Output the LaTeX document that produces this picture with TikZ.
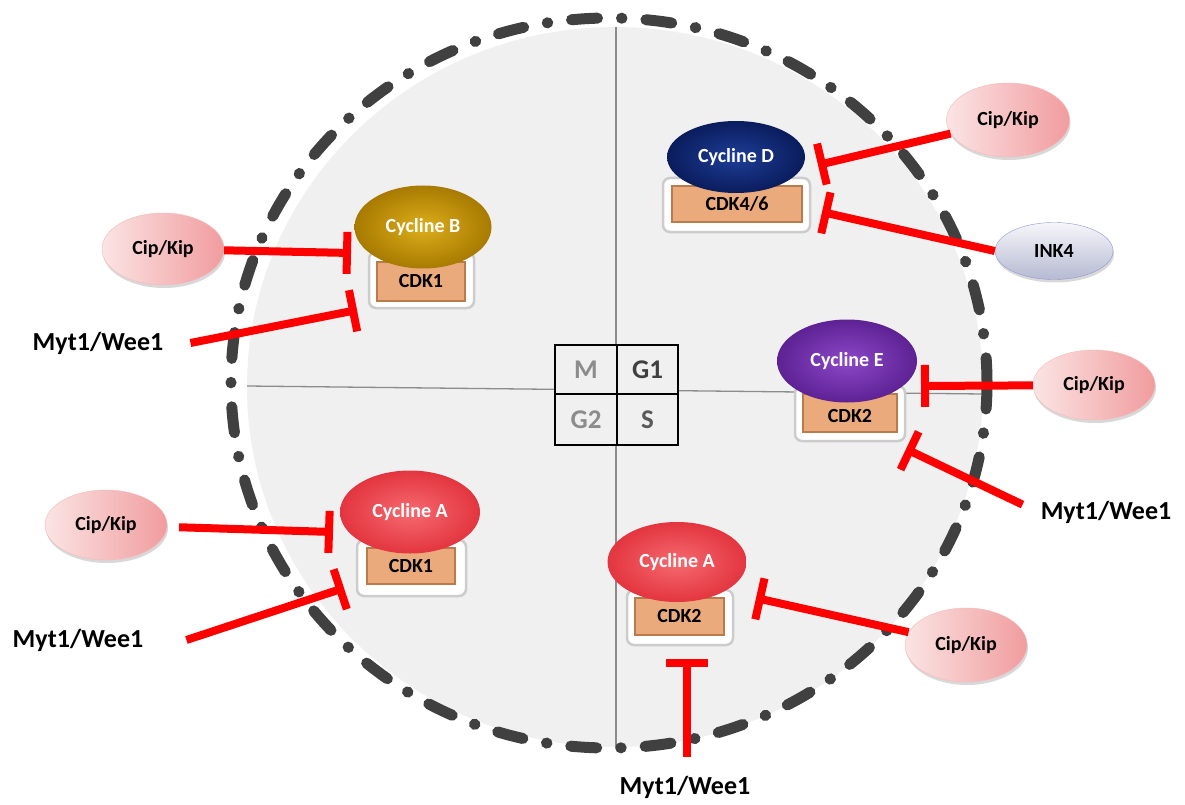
\documentclass[tikz,border=0pt]{standalone}
\usepackage{fontspec}
\setmainfont{Carlito}
\usetikzlibrary{arrows.meta,shapes.geometric,shadows}
\definecolor{bgfill}{HTML}{F0F0F0}
\definecolor{dashc}{HTML}{404040}
\definecolor{cdkor}{HTML}{EBAA7C}
\definecolor{cdkdk}{HTML}{B97B4C}
\definecolor{goldI}{HTML}{DCAE1C}
\definecolor{goldO}{HTML}{A87A00}
\definecolor{navyI}{HTML}{1E3E98}
\definecolor{navyO}{HTML}{0A1C5C}
\definecolor{purpI}{HTML}{8C48C8}
\definecolor{purpO}{HTML}{5E2294}
\definecolor{redI}{HTML}{F66A70}
\definecolor{redO}{HTML}{E3353F}
\definecolor{pinkL}{HTML}{FBE4E4}
\definecolor{pinkR}{HTML}{F19C9E}
\definecolor{inkT}{HTML}{F6F6FA}
\definecolor{inkB}{HTML}{B6BAD2}
\begin{document}
\begin{tikzpicture}[x=1pt,y=-1pt,
  every node/.style={font=\bfseries\fontsize{20}{24}\selectfont},
  whitebox/.style={rectangle, rounded corners=7pt, fill=white, draw=black!20, line width=2.5pt, inner sep=0pt},
  cdk/.style={rectangle, fill=cdkor, draw=cdkdk, line width=1.2pt, inner sep=0pt, text=black},
  cyc/.style={ellipse, inner sep=0pt, text=white},
  cip/.style={ellipse, inner sep=0pt, left color=pinkL, right color=pinkR, draw=pinkR!70!white,
     drop shadow={shadow xshift=1pt, shadow yshift=-3pt, fill=black!30}},
  inkstyle/.style={ellipse, inner sep=0pt, top color=inkT, bottom color=inkB, draw=inkB!80!blue,
     drop shadow={shadow xshift=1pt, shadow yshift=-3pt, fill=black!30}},
  myt/.style={inner sep=2pt, font=\bfseries\fontsize{26}{30}\selectfont},
  phase/.style={inner sep=0pt, minimum width=61pt, minimum height=50pt, font=\bfseries\fontsize{27}{30}\selectfont},
  inh/.style={draw=red, line width=8pt, -{Bar[width=42pt]}},
  dashcirc/.style={draw=dashc, line width=11pt, line cap=round, dash pattern=on 26pt off 24pt on 0.5pt off 24pt},
  crossline/.style={draw=black!45, line width=1.3pt}
]
\fill[white] (0,0) rectangle (1185,805);
\useasboundingbox (0,0) rectangle (1185,805);

% cell
\fill[bgfill] (615,387) ellipse [x radius=368, y radius=360];
\draw[crossline] (616,27) -- (616,747);
\draw[crossline] (247,386) -- (983,394);
\draw[dashcirc] (609,383) ellipse [x radius=378, y radius=365];

% phase grid
\fill[bgfill] (555,345) rectangle (678,445);
\node[phase, text=black!45] (pM) at (586,369.5) {M};
\node[phase, text=black!75] (pG1) at (647.5,369.5) {G1};
\node[phase, text=black!45] (pG2) at (586,419.5) {G2};
\node[phase, text=black!65] (pS) at (647.5,419.5) {S};
\draw[line width=1.5pt] (555,345) rectangle (678,445);
\draw[line width=1.5pt] (617,345) -- (617,445);
\draw[line width=1.5pt] (555,394) -- (678,394);

% Cycline B / CDK1
\node[whitebox, minimum width=105pt, minimum height=56pt] (wB) at (421.5,280) {};
\node[cdk, minimum width=88pt, minimum height=39pt] (kB) at (421,281.5) {CDK1};
\node[cyc, minimum width=137pt, minimum height=83pt, inner color=goldI, outer color=goldO] (cB) at (423,227) {Cycline B};

% Cycline D / CDK4/6
\node[whitebox, minimum width=147pt, minimum height=54pt] (wD) at (736.5,205) {};
\node[cdk, minimum width=130pt, minimum height=36pt] (kD) at (737,204) {CDK4/6};
\node[cyc, minimum width=138pt, minimum height=72pt, inner color=navyI, outer color=navyO] (cD) at (736,157) {Cycline D};

% Cycline E / CDK2
\node[whitebox, minimum width=110pt, minimum height=55pt] (wE) at (850,413.5) {};
\node[cdk, minimum width=94pt, minimum height=38pt] (kE) at (850,413) {};
\node (kEt) at (850,416) {CDK2};
\node[cyc, minimum width=140pt, minimum height=83pt, inner color=purpI, outer color=purpO] (cE) at (847,361) {Cycline E};

% Cycline A / CDK1 (left)
\node[whitebox, minimum width=109pt, minimum height=56pt] (wAL) at (411.5,568) {};
\node[cdk, minimum width=88pt, minimum height=36pt] (kAL) at (411,566) {CDK1};
\node[cyc, minimum width=140pt, minimum height=83pt, inner color=redI, outer color=redO] (cAL) at (410,512) {Cycline A};

% Cycline A / CDK2 (bottom)
\node[whitebox, minimum width=106pt, minimum height=55pt] (wAB) at (680,617.5) {};
\node[cdk, minimum width=89pt, minimum height=37pt] (kAB) at (679.5,616.5) {CDK2};
\node[cyc, minimum width=139pt, minimum height=80pt, inner color=redI, outer color=redO] (cAB) at (677,562) {Cycline A};

% inhibitors
\node[cip, minimum width=122pt, minimum height=72pt] (cipTL) at (163,249) {Cip/Kip};
\node[myt] (mytUL) at (98,343) {Myt1/Wee1};
\node[cip, minimum width=122pt, minimum height=70pt] (cipBL) at (106,525) {Cip/Kip};
\node[myt] (mytLL) at (78,640) {Myt1/Wee1};
\node[cip, minimum width=123pt, minimum height=74pt] (cipTR) at (1008,120) {Cip/Kip};
\node[inkstyle, minimum width=118pt, minimum height=57pt] (ink4) at (1054,251) {INK4};
\node[cip, minimum width=122pt, minimum height=70pt] (cipR) at (1094,385) {Cip/Kip};
\node[myt] (mytR) at (1106,512) {Myt1/Wee1};
\node[cip, minimum width=122pt, minimum height=74pt] (cipBR) at (966,645) {Cip/Kip};
\node[myt] (mytB) at (685,787) {Myt1/Wee1};

% inhibition connectors
\coordinate (t1) at (351,253);
\draw[inh] (cipTL) -- (t1);
\coordinate (t2) at (357,310);
\draw[inh] ([xshift=25pt]mytUL.east) -- (t2);
\coordinate (t3) at (818,165);
\draw[inh] (cipTR) -- (t3);
\coordinate (t4) at (822,212);
\draw[inh] (ink4.west) -- (t4);
\coordinate (t5) at (921,386);
\draw[inh] (cipR) -- (t5);
\coordinate (t6) at (906,449);
\draw[inh] ([xshift=-16pt,yshift=-6pt]mytR.north west) -- (t6);
\coordinate (t7) at (333,532);
\draw[inh, shorten <=12pt] (cipBL) -- (t7);
\coordinate (t8) at (344,588);
\draw[inh] ([xshift=41pt]mytLL.east) -- (t8);
\coordinate (t9) at (756,598);
\draw[inh] (cipBR) -- (t9);
\coordinate (t10) at (687,659);
\draw[inh] ([xshift=2pt,yshift=17pt]mytB.north) -- (t10);
\end{tikzpicture}
\end{document}
